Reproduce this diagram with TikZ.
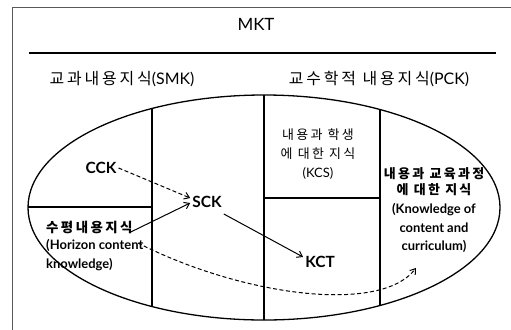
\documentclass[tikz,border=0pt]{standalone}
\usepackage{fontspec}
\setmainfont{Lato}
\newfontfamily\kr{Noto Sans CJK KR}[LetterSpace=18]
\usetikzlibrary{arrows.meta,calc}
\begin{document}
\begin{tikzpicture}[x=1bp,y=-1bp,
  lab/.style={inner sep=2bp, align=center},
  big/.style={font=\fontsize{16}{19}\selectfont},
  mid/.style={font=\fontsize{15.5}{18}\selectfont\bfseries},
  small/.style={font=\fontsize{13}{19}\selectfont},
  smallb/.style={font=\fontsize{13}{18.5}\selectfont\bfseries},
  conn/.style={line width=1bp, -{Straight Barb[length=5bp,width=7bp]}},
  dconn/.style={conn, dash pattern=on 4bp off 2.5bp},
  frame/.style={draw=black!65, line width=1bp},
  part/.style={line width=1.3bp}]
\useasboundingbox (0,0) rectangle (511,329);
\clip (0,0) rectangle (511,329);
\draw[frame] (12,7) rectangle (540,360);
\node[lab, font=\fontsize{17}{20}\selectfont] (mkt) at (256,24) {MKT};
\coordinate (rl) at (29,53);
\coordinate (rr) at (496,53);
\draw[line width=1.2bp] (rl) -- (rr);
\node[lab, big] (smk) at (122,79) {{\kr 교과내용지식}(SMK)};
\node[lab, big] (pck) at (379,79) {{\kr 교수학적 내용지식}(PCK)};
% ellipse and partitions
\coordinate (ec) at (264,207.5);
\draw[part] (ec) ellipse [x radius=236, y radius=112.5];
\begin{scope}
  \clip (ec) ellipse [x radius=236, y radius=112.5];
  \draw[part] (152,0) -- (152,400);
  \draw[part] (264,0) -- (264,400);
  \draw[part] (380,0) -- (380,400);
  \draw[part] (0,207) -- (152,207);
  \draw[part] (264,198) -- (380,198);
\end{scope}
% texts
\node[lab, mid] (cck) at (101,168) {CCK};
\node[lab, mid] (sck) at (207,202) {SCK};
\node[lab, mid] (kct) at (320,262) {KCT};
\node[lab, anchor=west, font=\fontsize{13.5}{14}\selectfont\kr\bfseries] (hz) at (44,227) {수평내용지식};
\node[lab, anchor=north west, font=\fontsize{13}{19}\selectfont\bfseries, align=left] (hzt) at (44,237) {(Horizon content\\knowledge)};
\node[lab, small] (kcs) at (318,154) {{\kr 내용과 학생}\\{\kr 에 대한 지식}\\(KCS)};
\node[lab, smallb] (kcc) at (434,210) {{\kr 내용과 교육과정}\\[-2bp]{\kr 에 대한 지식}\\[1bp](Knowledge of\\content and\\curriculum)};
% connectors
\draw[dconn] (cck.east) -- ($(sck.west)+(0,-4)$);
\draw[conn] ($(hz.east)+(-4,5)$) -- ($(sck.west)+(0,1)$);
\draw[conn] ($(sck.east)+(0,12)$) -- ($(kct.west)+(0,-5)$);
\coordinate (cs) at (138,243);
\coordinate (ce) at (416,268);
\draw[dconn] (cs) .. controls (240,295) and (380,315) .. (ce);
\end{tikzpicture}
\end{document}
